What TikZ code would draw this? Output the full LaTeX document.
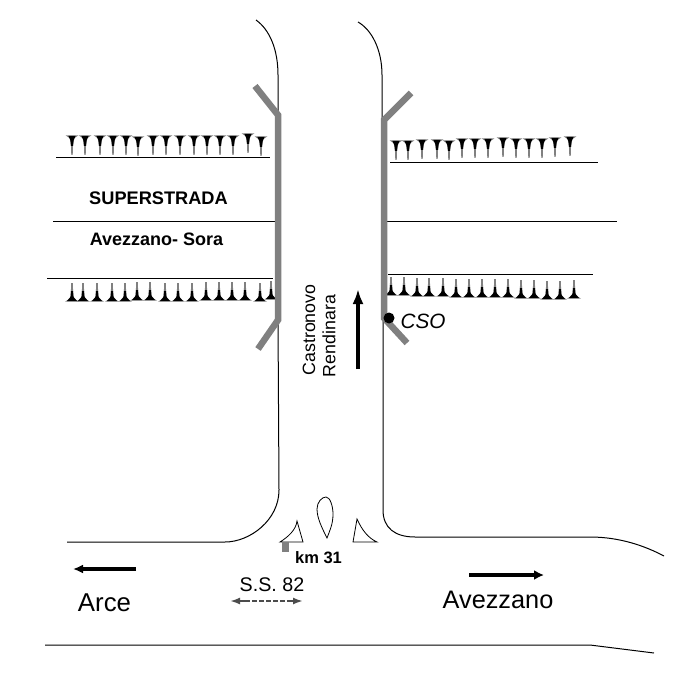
\documentclass[tikz,border=0pt]{standalone}
\usepackage{fontspec}
\setmainfont{Liberation Sans}
\usetikzlibrary{arrows.meta}
\tikzset{
  thinline/.style={draw=black,line width=1pt},
  wall/.style={draw=black!50,line width=6.5pt,line join=miter},
  island/.style={draw=black,line width=0.8pt,fill=white},
  lbl/.style={inner sep=0pt,anchor=center,text=black},
  uptree/.pic={
    \fill[black!50] (-7,0.7)--(7,0.7)--(1.3,-3)--(0.8,-18)--(-0.8,-18)--(-1.3,-3)--cycle;
    \fill[black] (-5,0)--(5,0)--(1.6,-4)--(1,-10)--(-1,-10)--(-1.6,-4)--cycle;
  },
  downtree/.pic={
    \fill[black!50] (-6.5,-0.7)--(6.5,-0.7)--(1.2,3)--(0.7,19)--(-0.7,19)--(-1.2,3)--cycle;
    \fill[black] (-3.6,0)--(3.6,0)--(1.8,4)--(1,10)--(-1,10)--(-1.8,4)--cycle;
  }
}
\begin{document}
\begin{tikzpicture}[x=1pt,y=-1pt]
\useasboundingbox (0,0) rectangle (700,700);
\fill[white] (0,0) rectangle (700,700);
% roads
\draw[thinline] (256,20) .. controls (270,30) and (278,50) .. (278,75) -- (278,115);
\draw[thinline] (278,320) -- (279,490) .. controls (279,520) and (250,542) .. (225,542) -- (67,542);
\draw[thinline] (358,22) .. controls (372,30) and (382,50) .. (382,75) -- (382,120);
\draw[thinline] (383,320) -- (383,510) .. controls (383,528) and (395,537) .. (415,537) -- (590,537) .. controls (620,537) and (645,546) .. (664,556);
\draw[thinline] (45,645) -- (590,645) -- (654,653);
% cross lines
\draw[thinline] (56,157.5) -- (270,157.5);
\draw[thinline] (53,221.5) -- (275,221.5);
\draw[thinline] (47,278) -- (273,278);
\draw[thinline] (390,162.5) -- (598,162.5);
\draw[thinline] (387,221.5) -- (617,221.5);
\draw[thinline] (388,274.5) -- (593,274.5);
% trees
\foreach \x/\y in {72/136,85/136,100/136,113/136,126/136,138/137,153/136,166/136,180/136,194/136,207/136,220/136,233/136,248/134,261/137}
  \pic at (\x,\y) {downtree};
\foreach \x/\y in {396/141,408/141,422/140,437/140,449/141,462/139,475/139,488/139,503/138,516/139,529/139,542/139,555/138,570/137}
  \pic at (\x,\y) {downtree};
\foreach \x/\y in {72/301,83/301,97/301,112/301,125/301,137/300,150/300,165/301,178/301,192/301,206/300,219/300,232/300,245/300,260/301,271/299}
  \pic at (\x,\y) {uptree};
\foreach \x/\y in {391/295,404/295,417/296,429/296,443/296,456/297,469/297,482/297,495/297,508/297,521/298,534/298,547/299,560/299,574/298}
  \pic at (\x,\y) {uptree};
% overpass walls
\draw[wall] (255,86) -- (278,115) -- (278,320) -- (258,349);
\draw[wall] (411,93) -- (384,120) -- (384,318) -- (407,343);
% islands
\draw[island] (280,542) .. controls (288,537) and (296,530) .. (297,521) -- (303,542) -- cycle;
\draw[island] (327,538) .. controls (322,528) and (317,518) .. (317,509) .. controls (317,502) and (322,497) .. (326,497) .. controls (330,497) and (333,506) .. (333,514) .. controls (333,524) and (330,530) .. (327,538) -- cycle;
\draw[island] (353,542) -- (357,519) .. controls (362,530) and (368,538) .. (377,542) -- cycle;
\fill[black!50] (282,542) rectangle (289,552);
% dot
\fill[black] (389,318) circle (5.5);
% arrows
\draw[black,line width=3.5pt,-{Latex[length=15pt,width=11pt]}] (358,369) -- (358,289);
\draw[black,line width=3.5pt,-{Latex[length=10pt,width=9pt]}] (136,569) -- (73,569);
\draw[black,line width=4pt,-{Latex[length=10pt,width=10pt]}] (469,575) -- (544,575);
\draw[black!70,line width=2pt,dash pattern=on 5pt off 2pt] (245,601) -- (290,601);
\draw[black!70,line width=2.2pt,-{Latex[length=10pt,width=7pt]}] (246,601) -- (230,601);
\draw[black!70,line width=2.2pt,-{Latex[length=10pt,width=7pt]}] (287,601) -- (303,601);
% labels
\node[lbl] (super) at (158.5,198) {\fontsize{18.2}{20}\selectfont\bfseries SUPERSTRADA};
\node[lbl] (avsora) at (156.5,239) {\fontsize{18}{20}\selectfont\bfseries Avezzano- Sora};
\node[lbl,rotate=90] (cast) at (309,330) {\fontsize{17.8}{20}\selectfont Castronovo};
\node[lbl,rotate=90] (rend) at (329,336) {\fontsize{17.8}{20}\selectfont Rendinara};
\node[lbl] (cso) at (423,321) {\fontsize{20.7}{24}\selectfont\itshape CSO};
\node[lbl] (km) at (318.5,558) {\fontsize{16.5}{18}\selectfont\bfseries km 31};
\node[lbl] (ss) at (272,585) {\fontsize{19.7}{22}\selectfont S.S. 82};
\node[lbl] (arce) at (104.5,603) {\fontsize{25.8}{28}\selectfont Arce};
\node[lbl] (avez) at (498,600) {\fontsize{25.3}{28}\selectfont Avezzano};
\end{tikzpicture}
\end{document}
